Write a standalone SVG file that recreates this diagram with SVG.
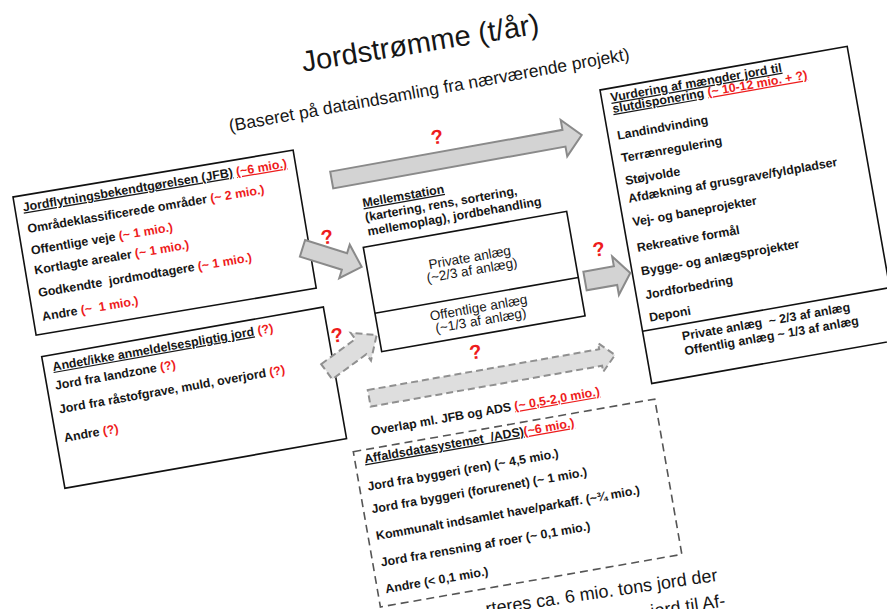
<svg xmlns="http://www.w3.org/2000/svg" width="887" height="609" viewBox="0 0 887 609">
<style>
text{font-family:"Liberation Sans",Arial,sans-serif;fill:#161616}
.b{font-weight:bold;font-size:12.4px}
.reg{font-size:13.5px;text-anchor:middle}
.r{fill:#ee1c1c}
.u{text-decoration:underline}
.box{fill:#fff;stroke:#111;stroke-width:1.6}
.dbox{fill:none;stroke:#555;stroke-width:1.6;stroke-dasharray:8 5}
.arr{fill:#d3d3d3;stroke:#8a8a8a;stroke-width:2;stroke-linejoin:miter}
.darr{fill:#dedede;stroke:#909090;stroke-width:2;stroke-dasharray:7 4}
.q{font-weight:bold;font-size:20px;fill:#ee1c1c;text-anchor:middle}
.big{font-size:18px}
</style>
<rect width="887" height="609" fill="#fff"/>
<g id="title">
<text transform="translate(303.3,71.7) rotate(-9.2)" font-size="29">Jordstrømme (t/år)</text>
<text transform="translate(230,131.7) rotate(-10.2)" font-size="17.5">(Baseret på dataindsamling fra nærværende projekt)</text>
</g>
<g id="node-jfb" transform="translate(13,197) rotate(-9.5)">
<rect class="box" width="284" height="140"/>
<text class="b" x="8" y="16"><tspan class="u">Jordflytningsbekendtgørelsen (JFB)</tspan> <tspan class="r u">(~6 mio.)</tspan></text>
<text class="b" x="9" y="38">Områdeklassificerede områder <tspan class="r">(~ 2 mio.)</tspan></text>
<text class="b" x="9" y="60">Offentlige veje <tspan class="r">(~ 1 mio.)</tspan></text>
<text class="b" x="9" y="80">Kortlagte arealer <tspan class="r">(~ 1 mio.)</tspan></text>
<text class="b" x="9" y="103" xml:space="preserve">Godkendte  jordmodtagere <tspan class="r">(~ 1 mio.)</tspan></text>
<text class="b" x="9" y="127" xml:space="preserve">Andre <tspan class="r">(~  1 mio.)</tspan></text>
</g>
<g id="node-andet" transform="translate(41.7,356.7) rotate(-10)">
<rect class="box" width="286" height="133.6"/>
<text class="b" x="9" y="16"><tspan class="u">Andet/ikke anmeldelsespligtig jord</tspan> <tspan class="r">(?)</tspan></text>
<text class="b" x="8" y="35">Jord fra landzone <tspan class="r">(?)</tspan></text>
<text class="b" x="8" y="59">Jord fra råstofgrave, muld, overjord <tspan class="r">(?)</tspan></text>
<text class="b" x="8" y="88">Andre <tspan class="r">(?)</tspan></text>
</g>
<g id="node-mellem" transform="translate(363.3,247.3) rotate(-10)">
<text class="b u" x="7" y="-39.5">Mellemstation</text>
<text class="b" x="7" y="-25">(kartering, rens, sortering,</text>
<text class="b" x="7" y="-10.5">mellemoplag), jordbehandling</text>
<rect class="box" width="206.5" height="106"/>
<line x1="0" y1="67" x2="206.5" y2="67" stroke="#111" stroke-width="1.6"/>
<text class="reg" x="103" y="33">Private anlæg</text>
<text class="reg" x="103" y="46">(~2/3 af anlæg)</text>
<text class="reg" x="103" y="84">Offentlige anlæg</text>
<text class="reg" x="103" y="97">(~1/3 af anlæg)</text>
</g>
<g id="node-vurdering" transform="translate(600,90) rotate(-10)">
<rect class="box" width="251" height="298"/>
<line x1="0" y1="245" x2="251" y2="245" stroke="#111" stroke-width="1.6"/>
<text class="b u" x="9" y="13.5">Vurdering af mængder jord til</text>
<text class="b" x="9" y="25"><tspan class="u">slutdisponering</tspan> <tspan class="r u">(~ 10-12 mio. + ?)</tspan></text>
<text class="b" x="9" y="52">Landindvinding</text>
<text class="b" x="9" y="75">Terrænregulering</text>
<text class="b" x="9" y="98">Støjvolde</text>
<text class="b" x="9" y="116">Afdækning af grusgrave/fyldpladser</text>
<text class="b" x="9" y="140">Vej- og baneprojekter</text>
<text class="b" x="9" y="166">Rekreative formål</text>
<text class="b" x="9" y="190">Bygge- og anlægsprojekter</text>
<text class="b" x="9" y="214">Jordforbedring</text>
<text class="b" x="9" y="237">Deponi</text>
<text class="b" x="38" y="261" xml:space="preserve">Private anlæg  ~ 2/3 af anlæg</text>
<text class="b" x="38" y="276">Offentlig anlæg ~ 1/3 af anlæg</text>
</g>
<g id="node-ads" transform="translate(353.3,451.7) rotate(-9.9)">
<rect class="dbox" width="306" height="157.6"/>
<text class="b" x="21" y="-13">Overlap ml. JFB og ADS <tspan class="r u">(~ 0,5-2,0 mio.)</tspan></text>
<text class="b" x="9.5" y="13.4" xml:space="preserve"><tspan class="u">Affaldsdatasystemet  /ADS)</tspan><tspan class="r u">(~6 mio.)</tspan></text>
<text class="b" x="8" y="41">Jord fra byggeri (ren) (~ 4,5 mio.)</text>
<text class="b" x="8" y="64">Jord fra byggeri (forurenet) (~ 1 mio.)</text>
<text class="b" x="8" y="91">Kommunalt indsamlet have/parkaff. (~¾ mio.)</text>
<text class="b" x="8" y="118">Jord fra rensning af roer (~ 0,1 mio.)</text>
<text class="b" x="8" y="145">Andre (&lt; 0,1 mio.)</text>
</g>
<g id="connectors">
<polygon class="arr" transform="translate(331.7,180) rotate(-10.2)" points="0,-8.5 236,-8.5 236,-18.5 254,0 236,18.5 236,8.5 0,8.5"/>
<polygon class="arr" transform="translate(302.5,248.3) rotate(17.4)" points="0,-8.7 44,-8.7 44,-17.6 62,0 44,17.6 44,8.7 0,8.7"/>
<polygon class="darr" transform="translate(326.7,371.7) rotate(-36.3)" points="0,-9.4 42.3,-9.4 42.3,-17.2 62,0 42.3,17.2 42.3,9.4 0,9.4"/>
<polygon class="arr" transform="translate(585,281) rotate(-10)" points="0,-9.5 31,-9.5 31,-19.5 46,0 31,19.5 31,9.5 0,9.5"/>
<polygon class="darr" transform="translate(369.2,398.3) rotate(-10)" points="0,-8.4 235,-8.4 235,-14.6 249.6,0 235,14.6 235,8.4 0,8.4"/>
<text class="q" transform="translate(438.3,143.7) rotate(-10)">?</text>
<text class="q" transform="translate(328.3,243.7) rotate(-10)">?</text>
<text class="q" transform="translate(338.3,342) rotate(-10)">?</text>
<text class="q" transform="translate(600,256) rotate(-10)">?</text>
<text class="q" transform="translate(476.7,358.7) rotate(-10)">?</text>
</g>
<g id="footer">
<text class="big" transform="translate(486.5,615) rotate(-8.4)">rteres ca. 6 mio. tons jord der</text>
<text class="big" transform="translate(613,623) rotate(-8.4)">tons jord til Af-</text>
</g>
</svg>
